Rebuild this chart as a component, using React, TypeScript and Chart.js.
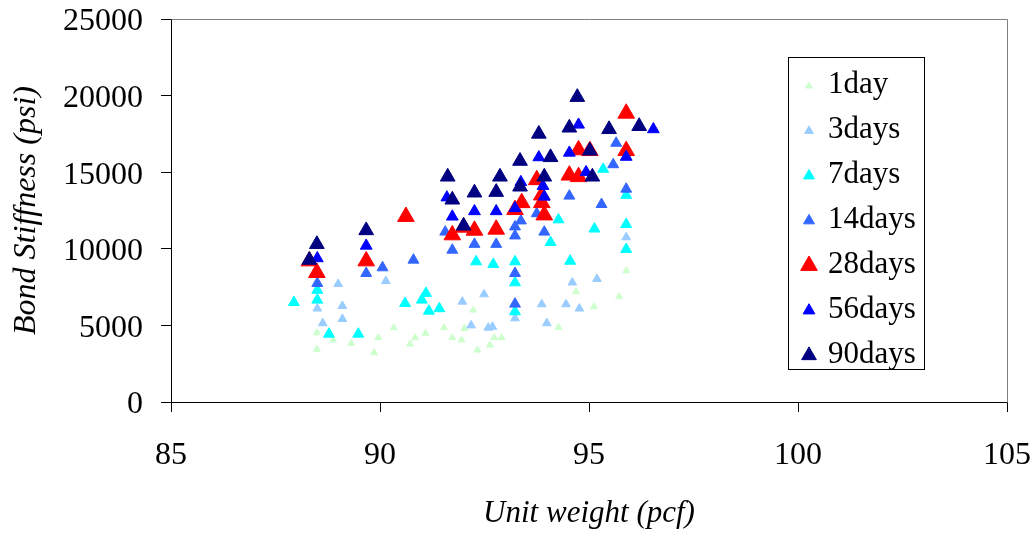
import React, { useEffect, useRef } from 'react';
import { Chart, registerables } from 'chart.js';

Chart.register(...registerables);

const FONT = "'Liberation Serif', 'Times New Roman', serif";

const seriesNames = ['1day', '3days', '7days', '14days', '28days', '56days', '90days'];
const seriesColors = ['#CCFFCC', '#99CCFF', '#00FFFF', '#3366FF', '#FF0000', '#0000FF', '#000080'];
const markerRadius = [4, 5, 6.3, 6.3, 9.6, 6.8, 8.5];

const xTicks = [85, 90, 95, 100, 105];
const yTicks = [0, 5000, 10000, 15000, 20000, 25000];

const day1X = [88.49, 88.49, 88.88, 89.31, 89.86, 89.96, 90.33, 90.72, 90.84, 91.09, 91.53, 91.73, 91.95, 92.02, 92.23, 92.33, 92.63, 92.73, 92.91, 94.27, 94.69, 95.12, 95.72, 95.89];
const day1Y = [4520, 3440, 4050, 3830, 3220, 4200, 4850, 3790, 4200, 4480, 4850, 4200, 4050, 4800, 6000, 3390, 3720, 4200, 4200, 4870, 7200, 6220, 6870, 8570];

const day3X = [88.5, 88.63, 89.0, 89.1, 89.1, 90.14, 91.97, 92.18, 92.49, 92.59, 92.69, 93.23, 93.87, 93.99, 94.45, 94.6, 94.77, 95.19, 95.89];
const day3Y = [6100, 5140, 7700, 6270, 5420, 7900, 6550, 5000, 7030, 4850, 4910, 5460, 6380, 5140, 6380, 7800, 6100, 8030, 10750];

const day7X = [87.94, 88.5, 88.5, 88.78, 89.48, 90.6, 91.0, 91.1, 91.17, 91.42, 92.3, 92.71, 93.23, 93.23, 93.23, 94.08, 94.27, 94.55, 95.13, 95.34, 95.89, 95.89, 95.89];
const day7Y = [6500, 7300, 6660, 4440, 4440, 6440, 6660, 7100, 5940, 6100, 9160, 8990, 9160, 7790, 5900, 10420, 11900, 9200, 11300, 15200, 13500, 11600, 9970];

const day14X = [88.5, 89.67, 90.06, 90.8, 91.56, 91.73, 92.26, 92.78, 93.23, 93.23, 93.37, 93.23, 93.23, 93.75, 93.93, 94.53, 95.3, 95.58, 95.65, 95.89];
const day14Y = [7750, 8400, 8770, 9270, 11100, 9920, 10300, 10300, 11440, 10850, 11830, 8400, 6400, 12300, 11100, 13450, 12900, 15500, 16900, 13900];

const day28X = [88.31, 88.49, 89.67, 90.62, 91.73, 92.0, 92.26, 92.78, 93.23, 93.39, 93.75, 93.87, 93.87, 93.93, 94.53, 94.75, 94.75, 95.02, 95.89, 95.89];
const day28Y = [9200, 8440, 9200, 12100, 10900, 11400, 11200, 11270, 12550, 13000, 14500, 13500, 13000, 12200, 14800, 14700, 16450, 16400, 16400, 18840];

const day56X = [88.5, 89.67, 91.6, 91.73, 92.26, 92.78, 93.23, 93.37, 93.8, 93.93, 93.9, 94.53, 94.75, 94.93, 95.89, 96.54];
const day56Y = [9380, 10200, 13350, 12100, 12450, 12450, 12650, 14350, 15970, 13400, 14100, 16270, 18100, 15000, 16000, 17800];

const day90X = [88.49, 88.31, 89.67, 91.62, 91.73, 92.0, 92.26, 92.78, 92.87, 93.35, 93.35, 93.8, 94.08, 93.93, 94.53, 94.72, 95.02, 95.08, 95.48, 96.2];
const day90Y = [10300, 9270, 11200, 14700, 13200, 11500, 13660, 13700, 14700, 15730, 14050, 17500, 15970, 14700, 17900, 19900, 16400, 14700, 17800, 18000];

const seriesX = [day1X, day3X, day7X, day14X, day28X, day56X, day90X];
const seriesY = [day1Y, day3Y, day7Y, day14Y, day28Y, day56Y, day90Y];

function drawTriangle(ctx: CanvasRenderingContext2D, x: number, y: number, r: number, color: string) {
  ctx.beginPath();
  let rad = 0;
  ctx.moveTo(x + Math.sin(rad) * r, y - Math.cos(rad) * r);
  rad += (2 * Math.PI) / 3;
  ctx.lineTo(x + Math.sin(rad) * r, y - Math.cos(rad) * r);
  rad += (2 * Math.PI) / 3;
  ctx.lineTo(x + Math.sin(rad) * r, y - Math.cos(rad) * r);
  ctx.closePath();
  ctx.fillStyle = color;
  ctx.fill();
  ctx.strokeStyle = color;
  ctx.lineWidth = 1;
  ctx.stroke();
}

const plotBorderPlugin = {
  id: 'plotBorder',
  beforeDatasetsDraw(chart: any) {
    const { ctx, chartArea } = chart;
    ctx.save();
    ctx.strokeStyle = '#808080';
    ctx.lineWidth = 1;
    ctx.beginPath();
    ctx.moveTo(Math.round(chartArea.left) + 0.5, Math.round(chartArea.top) + 0.5);
    ctx.lineTo(Math.round(chartArea.right) + 0.5, Math.round(chartArea.top) + 0.5);
    ctx.lineTo(Math.round(chartArea.right) + 0.5, Math.round(chartArea.bottom) + 0.5);
    ctx.stroke();
    ctx.restore();
  },
};

const boxLegendPlugin = {
  id: 'boxLegend',
  afterDraw(chart: any) {
    const { ctx } = chart;
    const left = 788;
    const top = 57;
    const width = 136;
    const height = 312;
    ctx.save();
    ctx.fillStyle = '#FFFFFF';
    ctx.fillRect(left, top, width, height);
    ctx.strokeStyle = '#000000';
    ctx.lineWidth = 1;
    ctx.strokeRect(left + 0.5, top + 0.5, width, height);
    ctx.font = `31px ${FONT}`;
    ctx.textBaseline = 'middle';
    ctx.textAlign = 'left';
    chart.data.datasets.forEach((ds: any, i: number) => {
      const rowY = 84 + i * 44.9;
      drawTriangle(ctx, 809, rowY + 2, ds.pointRadius, ds.backgroundColor);
      ctx.fillStyle = '#000000';
      ctx.fillText(ds.label, 828, rowY + 1);
    });
    ctx.restore();
  },
};

export default function App() {
  const canvasRef = useRef<HTMLCanvasElement | null>(null);

  useEffect(() => {
    if (!canvasRef.current) return;
    const datasets = seriesNames.map((name, i) => ({
      label: name,
      data: seriesX[i].map((x, j) => ({ x, y: seriesY[i][j] })),
      pointStyle: 'triangle',
      pointRadius: markerRadius[i],
      pointHoverRadius: markerRadius[i],
      backgroundColor: seriesColors[i],
      borderColor: seriesColors[i],
      pointBorderWidth: 1,
      showLine: false,
      order: seriesNames.length - 1 - i,
    }));

    const chart = new Chart(canvasRef.current, {
      type: 'scatter',
      data: { datasets },
      options: {
        responsive: false,
        animation: false,
        events: [],
        layout: { padding: { left: 0, top: 19, right: 26, bottom: 0 }, autoPadding: false },
        plugins: {
          legend: { display: false },
          tooltip: { enabled: false },
        },
        scales: {
          x: {
            type: 'linear',
            min: 85,
            max: 105,
            afterBuildTicks: (scale: any) => {
              scale.ticks = xTicks.map((v) => ({ value: v }));
            },
            afterFit: (scale: any) => {
              scale.height = 132;
              scale.paddingLeft = 0;
              scale.paddingRight = 0;
              scale.paddingTop = 0;
              scale.paddingBottom = 0;
            },
            ticks: {
              color: '#000000',
              font: { family: FONT, size: 32 },
              padding: 24,
              maxRotation: 0,
              callback: (v: any) => String(v),
            },
            grid: {
              display: true,
              drawOnChartArea: false,
              drawTicks: true,
              tickLength: 10,
              color: '#000000',
            },
            border: { display: true, color: '#000000', width: 1 },
            title: {
              display: true,
              text: 'Unit weight (pcf)',
              color: '#000000',
              font: { family: FONT, size: 31, style: 'italic' },
              padding: { top: 0, bottom: 2 },
            },
          },
          y: {
            type: 'linear',
            min: 0,
            max: 25000,
            afterBuildTicks: (scale: any) => {
              scale.ticks = yTicks.map((v) => ({ value: v }));
            },
            afterFit: (scale: any) => {
              scale.width = 171;
              scale.paddingLeft = 0;
              scale.paddingRight = 0;
              scale.paddingTop = 0;
              scale.paddingBottom = 0;
            },
            ticks: {
              color: '#000000',
              font: { family: FONT, size: 32 },
              padding: 18,
              labelOffset: 3,
              callback: (v: any) => String(v),
            },
            grid: {
              display: true,
              drawOnChartArea: false,
              drawTicks: true,
              tickLength: 10,
              color: '#000000',
            },
            border: { display: true, color: '#000000', width: 1 },
            title: {
              display: true,
              text: 'Bond Stiffness (psi)',
              color: '#000000',
              font: { family: FONT, size: 32, style: 'italic' },
              padding: { top: 7, bottom: 0 },
            },
          },
        },
      },
      plugins: [plotBorderPlugin, boxLegendPlugin],
    } as any);

    return () => {
      chart.destroy();
    };
  }, []);

  return (
    <div style={{ position: 'fixed', left: 0, top: 0, width: 1033, height: 534, background: '#FFFFFF' }}>
      <canvas ref={canvasRef} width={1033} height={534} style={{ width: 1033, height: 534, display: 'block' }} />
    </div>
  );
}
